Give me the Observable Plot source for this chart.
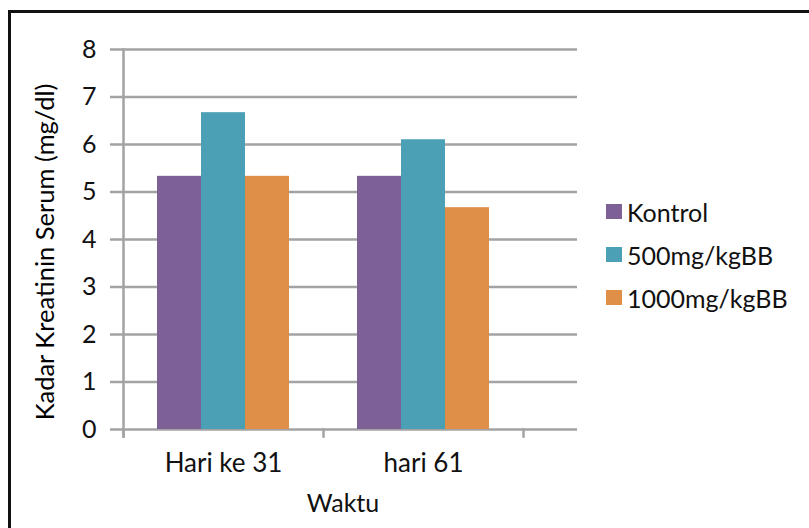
<!DOCTYPE html>
<html>
<head>
<meta charset="utf-8">
<script src="https://cdn.jsdelivr.net/npm/d3@7"></script>
<script src="https://cdn.jsdelivr.net/npm/@observablehq/plot@0.6"></script>
<style>
  html, body { margin: 0; padding: 0; background: #fff; }
  #root { position: relative; width: 809px; height: 528px; overflow: hidden; font-family: Lato, sans-serif; }
  #border { position: absolute; left: 8px; top: 10px; width: 900px; height: 700px; border-left: 3px solid #111; border-top: 3px solid #111; }
  #chart { position: absolute; left: 0; top: 0; width: 577px; height: 528px; overflow: hidden; }
  #chart svg { max-width: none !important; width: 809px !important; height: 528px !important; }
  #ylabel { position: absolute; left: 44px; top: 252px; transform: translate(-50%, -50%) rotate(-90deg); white-space: nowrap; font-family: Lato, sans-serif; font-size: 25.5px; color: #000; }
  #xlabel { position: absolute; left: 343px; top: 502px; transform: translate(-50%, -50%); font-family: Lato, sans-serif; font-size: 25px; color: #111; }
  #legend { position: absolute; left: 606px; top: 190px; font-family: Lato, sans-serif; font-size: 25px; color: #111; }
  .item { display: flex; align-items: center; height: 43px; }
  .sw { width: 16px; height: 15px; margin-right: 5px; }
</style>
</head>
<body>
<div id="root">
  <div id="border"></div>
  <div id="chart"></div>
  <div id="ylabel">Kadar Kreatinin Serum (mg/dl)</div>
  <div id="xlabel">Waktu</div>
  <div id="legend"></div>
</div>
<script>
const categories = ["Hari ke 31", "hari 61"];
const series = ["Kontrol", "500mg/kgBB", "1000mg/kgBB"];
const kontrol = [5.33, 5.33];
const dose500 = [6.67, 6.1];
const dose1000 = [5.33, 4.67];
const yTicks = [0, 1, 2, 3, 4, 5, 6, 7, 8];
const colors = ["#7D6096", "#4BA0B5", "#E08F48"];

const values = [kontrol, dose500, dose1000];
const data = [];
categories.forEach((c, i) => series.forEach((s, j) => data.push({day: c, series: s, value: values[j][i]})));

const fxDomain = [...categories, ""];
const grid = fxDomain.flatMap(c => yTicks.map(t => ({day: c, t})));

const W = 809, H = 528, mT = 49, mB = 99;
const gridColor = "#a3a3a3";

const chart = Plot.plot({
  width: W, height: H,
  marginLeft: 123, marginRight: 86, marginTop: mT, marginBottom: mB,
  style: {fontFamily: "Lato, sans-serif", fontSize: "25px", color: "#111", background: "transparent", maxWidth: "none"},
  fx: {domain: fxDomain, paddingInner: 0, paddingOuter: 0, label: null},
  x: {domain: series, paddingInner: 0, paddingOuter: 0.75, axis: null},
  y: {domain: [0, 8], label: null},
  color: {domain: series, range: colors},
  marks: [
    Plot.ruleY(grid, {fx: "day", y: "t", stroke: gridColor, strokeWidth: 2.5}),
    Plot.barY(data, {fx: "day", x: "series", y: "value", fill: "series"}),
    Plot.axisY(yTicks, {tickSize: 13, tickPadding: 14, stroke: gridColor, strokeWidth: 2.5, fill: "#111", fontSize: 25, label: null}),
    Plot.axisFx({anchor: "bottom", tickSize: 0, tickPadding: 24, fontSize: 26, fill: "#111", label: null}),
    Plot.frame({anchor: "left", insetTop: H - mT - mB, insetBottom: -7, stroke: gridColor, strokeWidth: 2.5}),
    Plot.frame({anchor: "left", facet: "super", insetBottom: -7, stroke: gridColor, strokeWidth: 2.5})
  ]
});
document.getElementById("chart").appendChild(chart);

const legend = document.getElementById("legend");
series.forEach((s, i) => {
  const it = document.createElement("div");
  it.className = "item";
  it.innerHTML = `<div class="sw" style="background:${colors[i]}"></div><span>${s}</span>`;
  legend.appendChild(it);
});
</script>
</body>
</html>
